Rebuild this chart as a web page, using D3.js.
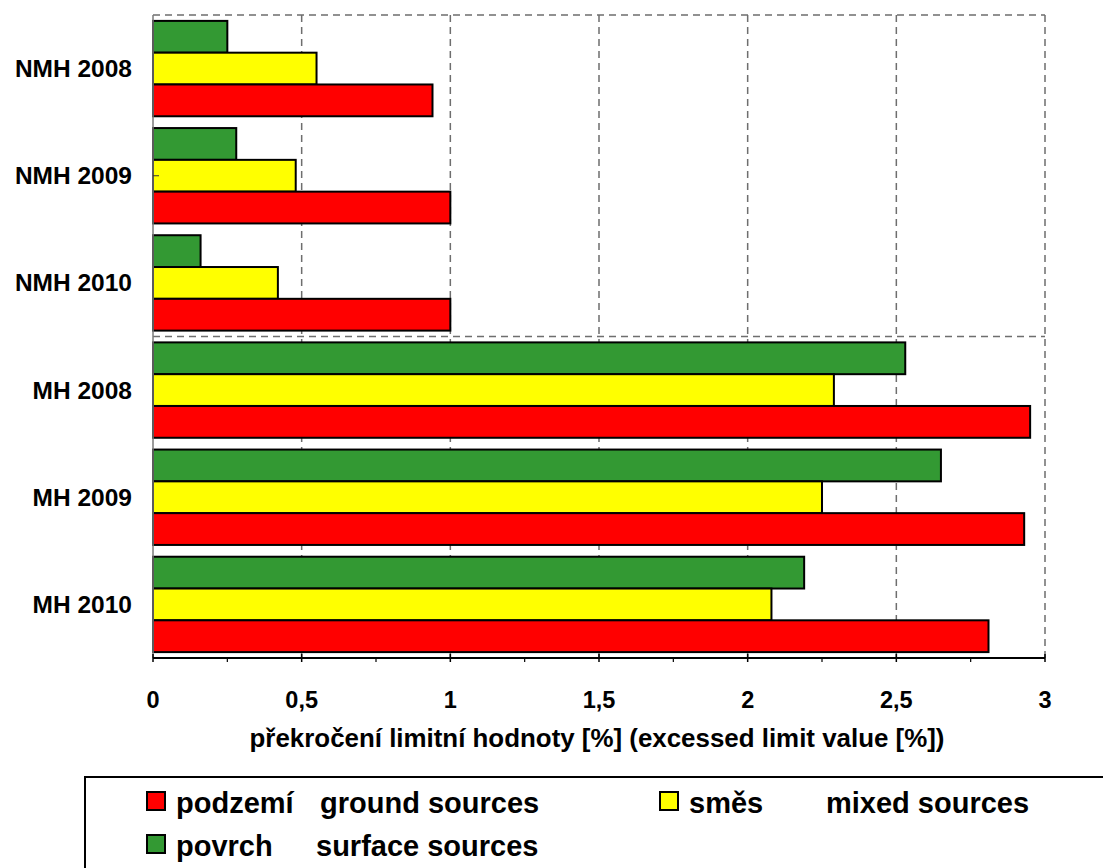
<!DOCTYPE html>
<html>
<head>
<meta charset="utf-8">
<script src="https://cdn.jsdelivr.net/npm/d3@7"></script>
<style>
  html, body { margin: 0; padding: 0; background: #fff; }
  svg { display: block; }
  text { font-family: "Liberation Sans", Arial, sans-serif; font-weight: bold; fill: #000; }
</style>
</head>
<body>
<svg id="chart" width="1103" height="868"></svg>
<script>
// Categories (top to bottom)
const categories = ["NMH 2008", "NMH 2009", "NMH 2010", "MH 2008", "MH 2009", "MH 2010"];

// Series, in the order they are stacked inside each category (top to bottom)
const seriesKeys = ["povrch", "smes", "podzemi"];
const povrch  = [0.25, 0.28, 0.16, 2.53, 2.65, 2.19];   // surface sources
const smes    = [0.55, 0.48, 0.42, 2.29, 2.25, 2.08];   // mixed sources
const podzemi = [0.94, 1.00, 1.00, 2.95, 2.93, 2.81];   // ground sources
const seriesValues = { povrch, smes, podzemi };
const seriesColors = { podzemi: "#ff0000", smes: "#ffff00", povrch: "#339933" };

// Axis ticks
const xTickValues = [0, 0.5, 1, 1.5, 2, 2.5, 3];
const xTickLabels = ["0", "0,5", "1", "1,5", "2", "2,5", "3"];
const xMinorTicks = [0.25, 0.75, 1.25, 1.75, 2.25, 2.75];

const axisTitle = "překročení limitní hodnoty [%] (excessed limit value [%])";

// Legend entries: [key, local name, english name]
const legendItems = [
  ["podzemi", "podzemí", "ground sources"],
  ["smes", "směs", "mixed sources"],
  ["povrch", "povrch", "surface sources"]
];

const svg = d3.select("#chart");
const plot = { left: 153, right: 1045, top: 15, bottom: 658 };

const x = d3.scaleLinear().domain([0, 3]).range([plot.left, plot.right]);
const y = d3.scaleBand().domain(categories).range([plot.top, plot.bottom])
  .paddingInner(0.11).paddingOuter(0.055);
const ySub = d3.scaleBand().domain(seriesKeys).range([0, y.bandwidth()]);

const gridColor = "#6e6e6e";
const dash = "7,5";

// Dashed grid: vertical lines at the major ticks, top border, and divider between groups
const grid = svg.append("g");
grid.selectAll("line.v").data(xTickValues.filter(v => v > 0)).join("line")
  .attr("x1", d => x(d)).attr("x2", d => x(d))
  .attr("y1", plot.top).attr("y2", plot.bottom)
  .attr("stroke", gridColor).attr("stroke-width", 1.5).attr("stroke-dasharray", dash);
grid.append("line")
  .attr("x1", plot.left).attr("x2", plot.right)
  .attr("y1", plot.top).attr("y2", plot.top)
  .attr("stroke", gridColor).attr("stroke-width", 1.5).attr("stroke-dasharray", dash);
const divider = y.step() * 3 + plot.top;
grid.append("line")
  .attr("x1", plot.left).attr("x2", plot.right)
  .attr("y1", divider).attr("y2", divider)
  .attr("stroke", gridColor).attr("stroke-width", 1.5).attr("stroke-dasharray", dash);

// Bars
const rows = categories.map((c, i) => ({ c, vals: seriesKeys.map(k => ({ k, v: seriesValues[k][i] })) }));
const groups = svg.append("g").selectAll("g").data(rows).join("g")
  .attr("transform", d => `translate(0,${y(d.c)})`);
groups.selectAll("rect").data(d => d.vals).join("rect")
  .attr("x", x(0))
  .attr("y", d => ySub(d.k))
  .attr("width", d => x(d.v) - x(0))
  .attr("height", ySub.bandwidth())
  .attr("fill", d => seriesColors[d.k])
  .attr("stroke", "#000").attr("stroke-width", 2);

// Left (category) axis line
svg.append("line")
  .attr("x1", plot.left).attr("x2", plot.left)
  .attr("y1", plot.top).attr("y2", plot.bottom)
  .attr("stroke", "#7a7a7a").attr("stroke-width", 1.5);
svg.append("line")
  .attr("x1", plot.left).attr("x2", plot.left + 6)
  .attr("y1", y("NMH 2009") + y.bandwidth() / 2).attr("y2", y("NMH 2009") + y.bandwidth() / 2)
  .attr("stroke", "#333").attr("stroke-width", 1);

// Category labels
svg.append("g").selectAll("text").data(categories).join("text")
  .attr("x", 132)
  .attr("y", d => y(d) + y.bandwidth() / 2)
  .attr("text-anchor", "end").attr("dominant-baseline", "central")
  .style("font-size", "24.5px")
  .text(d => d);

// Bottom value axis
const xAxis = svg.append("g");
xAxis.append("line")
  .attr("x1", plot.left).attr("x2", plot.right)
  .attr("y1", plot.bottom).attr("y2", plot.bottom)
  .attr("stroke", "#000").attr("stroke-width", 2);
xAxis.selectAll("line.maj").data(xTickValues).join("line")
  .attr("x1", d => x(d)).attr("x2", d => x(d))
  .attr("y1", plot.bottom - 4).attr("y2", plot.bottom + 4)
  .attr("stroke", "#000").attr("stroke-width", 1.5);
xAxis.selectAll("line.min").data(xMinorTicks).join("line")
  .attr("x1", d => x(d)).attr("x2", d => x(d))
  .attr("y1", plot.bottom).attr("y2", plot.bottom + 4)
  .attr("stroke", "#000").attr("stroke-width", 1.2);
xAxis.selectAll("text").data(xTickValues).join("text")
  .attr("x", d => x(d)).attr("y", 708)
  .attr("text-anchor", "middle")
  .style("font-size", "23.5px")
  .text((d, i) => xTickLabels[i]);

// Axis title
svg.append("text")
  .attr("x", (plot.left + plot.right) / 2 - 2).attr("y", 747)
  .attr("text-anchor", "middle")
  .style("font-size", "25.9px")
  .text(axisTitle);

// Legend
const legend = svg.append("g");
legend.append("rect")
  .attr("x", 85).attr("y", 777).attr("width", 1040).attr("height", 120)
  .attr("fill", "#fff").attr("stroke", "#000").attr("stroke-width", 2);
const legendPos = {
  podzemi: { sx: 147, base: 813, nameX: 176, enX: 320 },
  smes:    { sx: 660, base: 813, nameX: 689, enX: 826 },
  povrch:  { sx: 147, base: 856, nameX: 176, enX: 316 }
};
legendItems.forEach(([k, name, en]) => {
  const p = legendPos[k];
  legend.append("rect")
    .attr("x", p.sx).attr("y", p.base - 21).attr("width", 18).attr("height", 18)
    .attr("fill", seriesColors[k]).attr("stroke", "#000").attr("stroke-width", 2);
  legend.append("text")
    .attr("x", p.nameX).attr("y", p.base)
    .style("font-size", "29px")
    .text(name);
  legend.append("text")
    .attr("x", p.enX).attr("y", p.base)
    .style("font-size", "29px")
    .text(en);
});
</script>
</body>
</html>
